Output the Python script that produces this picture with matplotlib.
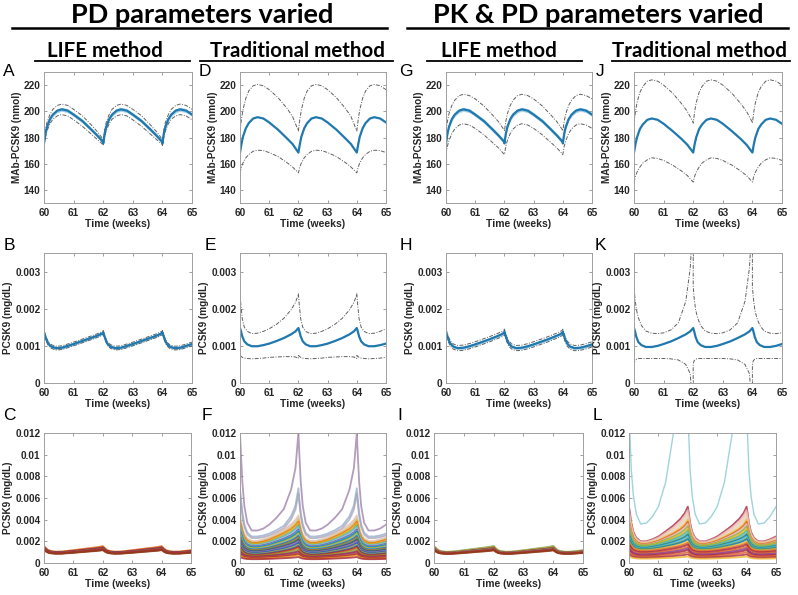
import matplotlib
matplotlib.use('Agg')
import matplotlib.pyplot as plt
from matplotlib.lines import Line2D

W, H = 798, 595

# ---------------------------------------------------------
# Data: one 2-week dosing interval per curve
# (steady state, so the same interval repeats from week 60 to 65)
# ---------------------------------------------------------
off_mab = [0, 0.05, 0.1, 0.2, 0.3, 0.45, 0.6, 0.8, 1.0, 1.3, 1.6, 1.8, 2.0]
off_free = [0, 0.03, 0.08, 0.15, 0.25, 0.4, 0.6, 0.8, 1.0, 1.25, 1.5, 1.75, 1.9, 2.0]

# MAb-PCSK9 (nmol): mean, upper, lower
A_mean = [175.5, 183, 188, 194, 197.5, 200.5, 201.5, 200.5, 197.5, 192.5, 186, 181.5, 176.5]
A_up = [177.5, 186, 191.5, 197.5, 201.5, 204.5, 205.5, 204.5, 201.5, 196.5, 189.5, 184.5, 178.5]
A_lo = [174, 180.5, 185, 190.5, 194, 196.5, 197.5, 196.5, 193.5, 188.5, 182.5, 178.5, 174.5]

D_mean = [168.5, 175, 180.5, 187, 191, 194.5, 195.5, 194.5, 191.5, 186, 179.5, 175, 168.5]
D_up = [185, 194, 201, 210, 215.5, 219.5, 220.5, 219.5, 216.5, 210.5, 202.5, 196, 185]
D_lo = [153, 157.5, 160.5, 164.5, 167, 169.5, 170.3, 170, 168.5, 165.5, 161, 157.5, 153]

G_mean = [175.5, 183, 188, 194, 197.5, 200.5, 201.5, 200.5, 197.5, 192.5, 186, 181.5, 176.5]
G_up = [185, 192.5, 198, 204.5, 208.5, 212, 213, 212, 209.5, 204, 197, 192, 185.5]
G_lo = [167, 173.5, 177.5, 183, 186.5, 189.5, 190.5, 189.5, 187, 182, 176, 172, 167]

J_mean = [168.5, 175, 180, 186.5, 190, 193.5, 194.5, 193.5, 190.5, 185, 179, 174.5, 168.5]
J_up = [191, 200, 206.5, 214.5, 219, 223, 224, 223, 220, 214, 206, 200, 191.5]
J_lo = [146, 150.5, 153.5, 157.5, 160.5, 163, 164.5, 164, 162.5, 159, 154.5, 151, 146]

# free PCSK9 (x1e-3 mg/dL): mean, upper, lower
B_mean = [1.36, 1.29, 1.17, 1.05, 0.98, 0.94, 0.95, 1.00, 1.05, 1.12, 1.19, 1.26, 1.31, 1.35]
B_up = [1.41, 1.34, 1.22, 1.10, 1.03, 0.99, 1.00, 1.05, 1.10, 1.17, 1.24, 1.31, 1.36, 1.40]
B_lo = [1.31, 1.24, 1.12, 1.00, 0.93, 0.89, 0.90, 0.95, 1.00, 1.07, 1.14, 1.21, 1.26, 1.30]

E_mean = [1.48, 1.40, 1.25, 1.12, 1.04, 0.99, 0.99, 1.02, 1.06, 1.13, 1.21, 1.31, 1.39, 1.48]
E_up = [2.40, 2.10, 1.72, 1.50, 1.39, 1.33, 1.34, 1.39, 1.46, 1.58, 1.74, 1.97, 2.17, 2.38]
E_lo = [0.74, 0.72, 0.69, 0.67, 0.66, 0.65, 0.66, 0.67, 0.69, 0.70, 0.71, 0.71, 0.70, 0.66]

H_mean = [1.38, 1.30, 1.18, 1.06, 0.98, 0.94, 0.95, 0.99, 1.04, 1.11, 1.18, 1.26, 1.31, 1.36]
H_up = [1.45, 1.37, 1.25, 1.13, 1.05, 1.01, 1.02, 1.06, 1.11, 1.18, 1.25, 1.33, 1.38, 1.43]
H_lo = [1.31, 1.23, 1.11, 0.99, 0.91, 0.87, 0.88, 0.92, 0.97, 1.04, 1.11, 1.19, 1.24, 1.29]

K_mean = [1.48, 1.40, 1.24, 1.10, 1.02, 0.97, 0.97, 1.00, 1.05, 1.12, 1.21, 1.31, 1.39, 1.48]
K_up = [2.60, 2.30, 1.98, 1.75, 1.55, 1.40, 1.34, 1.33, 1.35, 1.43, 1.62, 2.20, 3.10, 4.50]
K_lo = [0.50, 0.60, 0.64, 0.66, 0.66, 0.66, 0.66, 0.66, 0.66, 0.65, 0.62, 0.50, 0.25, -0.80]

# spaghetti panels: normalised interval shapes + each run's trough / peak (x1e-3)
shape_life = [1, 0.86, 0.56, 0.27, 0.10, 0.0, 0.02, 0.14, 0.26, 0.43, 0.60, 0.76, 0.88, 1.0]
shape_trad = [1, 0.84, 0.53, 0.27, 0.10, 0.0, 0.0, 0.06, 0.14, 0.29, 0.45, 0.65, 0.82, 1.0]
shape_steep = [1, 0.80, 0.50, 0.25, 0.08, 0.0, 0.0, 0.02, 0.06, 0.13, 0.22, 0.42, 0.64, 1.0]

C_trough = [1.05, 1.03, 1.01, 0.99, 0.98, 0.97, 0.96, 0.95, 0.94, 0.93, 0.92, 0.91, 0.90, 0.88, 0.87, 0.85]
C_peak = [1.56, 1.51, 1.47, 1.44, 1.41, 1.39, 1.37, 1.35, 1.33, 1.31, 1.29, 1.27, 1.25, 1.23, 1.21, 1.18]
C_col = ['#D95319', '#EDB120', '#A2142F', '#D95319', '#7E2F8E', '#A2142F', '#D95319', '#0072BD',
         '#A2142F', '#77AC30', '#D95319', '#A2142F', '#7E2F8E', '#D95319', '#A2142F', '#8B4513']

F_trough = [3.0, 2.45, 2.3, 2.05, 1.95, 1.9, 1.85, 1.8, 1.7, 1.65, 1.6, 1.55, 1.5, 1.45, 1.4, 1.35, 1.3,
            1.25, 1.2, 1.15, 1.1, 1.05, 1.0, 0.95, 0.9, 0.85, 0.8, 0.75, 0.7, 0.65, 0.6, 0.55, 0.5,
            0.45, 0.4, 0.35]
F_peak = [12.0, 6.9, 6.4, 4.4, 4.2, 4.0, 3.8, 3.7, 3.5, 3.4, 3.2, 3.1, 3.0, 2.9, 2.8, 2.7, 2.6,
          2.5, 2.4, 2.3, 2.2, 2.1, 2.0, 1.9, 1.8, 1.7, 1.6, 1.5, 1.4, 1.25, 1.1, 1.0, 0.9,
          0.8, 0.7, 0.55]
F_col = ['#9B7BA6', '#93A8CC', '#A3A3B8', '#E8B9A8', '#C8C8C8', '#EDB120', '#D95319', '#EDB120',
         '#77AC30', '#4DBEEE', '#B0C4DE', '#7E2F8E', '#4DBEEE', '#0072BD', '#77AC30', '#EDB120',
         '#4DBEEE', '#0072BD', '#D95319', '#77AC30', '#0072BD', '#A2142F', '#4DBEEE', '#7E2F8E',
         '#0072BD', '#EDB120', '#0072BD', '#A2142F', '#D95319', '#77AC30', '#A2142F', '#7E2F8E',
         '#D95319', '#A2142F', '#EDB120', '#A2142F']
F_n_steep = 3

I_trough = [1.04, 1.02, 1.00, 0.99, 0.97, 0.96, 0.95, 0.94, 0.93, 0.92, 0.91, 0.90, 0.88, 0.87, 0.85, 0.83]
I_peak = [1.58, 1.53, 1.49, 1.46, 1.43, 1.40, 1.38, 1.36, 1.33, 1.31, 1.29, 1.27, 1.24, 1.22, 1.19, 1.16]
I_col = ['#77AC30', '#A0A0A0', '#EDB120', '#77AC30', '#D95319', '#7E2F8E', '#77AC30', '#A2142F',
         '#4DBEEE', '#D95319', '#77AC30', '#A2142F', '#7E2F8E', '#D95319', '#A2142F', '#8B4513']

L_top = [25.0, 12.0, 8.5, 6.2, 4.5, 3.6, 3.7, 4.3, 5.2, 7.5, 11.8, 18.0, 22.0, 25.0]
L_trough = [2.0, 1.95, 1.9, 1.85, 1.8, 1.75, 1.7, 1.65, 1.6, 1.55, 1.5, 1.45, 1.4, 1.35, 1.3, 1.25,
            1.2, 1.1, 1.0, 0.9, 0.8, 0.7, 0.6, 0.5, 0.4]
L_peak = [5.2, 4.9, 4.6, 4.3, 4.0, 3.8, 3.6, 3.4, 3.2, 3.0, 2.9, 2.7, 2.6, 2.45, 2.3, 2.2,
          2.0, 1.85, 1.7, 1.5, 1.35, 1.2, 1.0, 0.8, 0.6]
L_col = ['#A2142F', '#E8B0B8', '#F0C8A0', '#E0D0C0', '#EDB120', '#D95319', '#F0B8C8', '#77AC30',
         '#EDB120', '#77AC30', '#4DBEEE', '#77AC30', '#0072BD', '#4DBEEE', '#77AC30', '#0072BD',
         '#EDB120', '#D95319', '#A2142F', '#D95319', '#7E2F8E', '#A2142F', '#D95319', '#A2142F',
         '#EDB120']

# ---------------------------------------------------------
blue = '#1f78ae'
band = '#a6d3ea'
gray = '#606060'
dashdot = (0, (4, 1.5, 1, 1.5))
tickfont = dict(family='Liberation Sans', weight='bold', size=7.2)


def tile(off, vals, scale=1.0, t0=60.0, t1=65.0):
    ts, ys = [], []
    start = t0
    while start < t1:
        for o, v in zip(off, vals):
            if start + o <= t1 + 1e-9:
                ts.append(start + o)
                ys.append(v * scale)
        start += 2.0
    return ts, ys


def px_axes(fig, l, t, r, b):
    return fig.add_axes([l / W, 1 - b / H, (r - l) / W, (b - t) / H])


def style(ax, ylim, yticks, yticklabels, ylabel):
    ax.set_xlim(60, 65)
    ax.set_ylim(*ylim)
    ax.set_xticks([60, 61, 62, 63, 64, 65])
    ax.set_xticklabels(['60', '61', '62', '63', '64', '65'], fontdict=tickfont)
    ax.set_yticks(yticks)
    ax.set_yticklabels(yticklabels, fontdict=tickfont)
    ax.tick_params(direction='in', length=2, width=0.5, top=True, right=True, colors='#777777',
                   labelcolor='#262626')
    ax.tick_params(axis='x', pad=3.5)
    ax.tick_params(axis='y', pad=2.5)
    for s in ax.spines.values():
        s.set_color('#a0a0a0')
        s.set_linewidth(0.7)
    ax.set_xlabel('Time (weeks)', fontdict=dict(family='Liberation Sans', weight='bold', size=7.5),
                  labelpad=1.0, color='#262626')
    ax.set_ylabel(ylabel, fontdict=dict(family='Liberation Sans', weight='bold', size=7.2),
                  labelpad=1.5, color='#262626')


fig = plt.figure(figsize=(W / 100, H / 100), dpi=100)

cols12 = [(44, 192), (240, 386), (446, 592), (634, 782)]
cols3 = [(44, 191), (240, 386), (434, 583), (629, 776)]
rows = [(72, 203), (253, 383), (433, 563)]

mab_panels = [(A_mean, A_up, A_lo, 1.5), (D_mean, D_up, D_lo, 0), (G_mean, G_up, G_lo, 1.5),
              (J_mean, J_up, J_lo, 0)]
free_panels = [(B_mean, B_up, B_lo, 0.04), (E_mean, E_up, E_lo, 0), (H_mean, H_up, H_lo, 0.04),
               (K_mean, K_up, K_lo, 0)]

for k, (mean, up, lo, hw) in enumerate(mab_panels):
    ax = px_axes(fig, cols12[k][0], rows[0][0], cols12[k][1], rows[0][1])
    t, m = tile(off_mab, mean)
    if hw:
        ax.fill_between(t, [v - hw for v in m], [v + hw for v in m], color=band, lw=0)
    ax.plot(*tile(off_mab, up), color=gray, lw=0.7, ls=dashdot)
    ax.plot(*tile(off_mab, lo), color=gray, lw=0.7, ls=dashdot)
    ax.plot(t, m, color=blue, lw=1.6)
    style(ax, (130, 230), [140, 160, 180, 200, 220], ['140', '160', '180', '200', '220'],
          'MAb-PCSK9 (nmol)')

for k, (mean, up, lo, hw) in enumerate(free_panels):
    ax = px_axes(fig, cols12[k][0], rows[1][0], cols12[k][1], rows[1][1])
    t, m = tile(off_free, mean, 1e-3)
    if hw:
        ax.fill_between(t, [v - hw * 1e-3 for v in m], [v + hw * 1e-3 for v in m], color=band, lw=0)
    ax.plot(*tile(off_free, up, 1e-3), color=gray, lw=0.7, ls=dashdot)
    ax.plot(*tile(off_free, lo, 1e-3), color=gray, lw=0.7, ls=dashdot)
    ax.plot(t, m, color=blue, lw=1.6)
    style(ax, (0, 0.0035), [0, 0.001, 0.002, 0.003], ['0', '0.001', '0.002', '0.003'],
          'PCSK9 (mg/dL)')

spag = [(C_trough, C_peak, C_col, shape_life, 0, None),
        (F_trough, F_peak, F_col, shape_trad, F_n_steep, None),
        (I_trough, I_peak, I_col, shape_life, 0, None),
        (L_trough, L_peak, L_col, shape_trad, 0, L_top)]
for k, (tr, pk, cl, shp, n_steep, top) in enumerate(spag):
    ax = px_axes(fig, cols3[k][0], rows[2][0], cols3[k][1], rows[2][1])
    if top is not None:
        ax.plot(*tile(off_free, top, 1e-3), color='#9fd4dc', lw=1.0)
    for i, (lo_v, hi_v, c) in enumerate(zip(tr, pk, cl)):
        s_use = shape_steep if i < n_steep else shp
        vals = [lo_v + (hi_v - lo_v) * s for s in s_use]
        ax.plot(*tile(off_free, vals, 1e-3), color=c, lw=1.3, alpha=0.75)
    style(ax, (0, 0.012), [0, 0.002, 0.004, 0.006, 0.008, 0.01, 0.012],
          ['0', '0.002', '0.004', '0.006', '0.008', '0.01', '0.012'], 'PCSK9 (mg/dL)')

# ---------------------------------------------------------
# Headers, underlines and panel letters
# ---------------------------------------------------------
def ftext(x, y, s, **kw):
    fig.text(x / W, 1 - y / H, s, **kw)


def fline(x0, x1, y, lw=1.6):
    fig.add_artist(Line2D([x0 / W, x1 / W], [1 - y / H, 1 - y / H], color='black', lw=lw))


hdr = dict(family='Lato', weight='bold', ha='center', va='baseline')
ftext(202, 23, 'PD parameters varied', size=19.5, **hdr)
ftext(598, 23, 'PK & PD parameters varied', size=19.5, **hdr)
fline(12, 387, 27.5, 1.8)
fline(407, 788, 27.5, 1.8)

sub = [(105, 'LIFE method', 35, 190), (298, 'Traditional method', 200, 393),
       (499, 'LIFE method', 427, 582), (700, 'Traditional method', 612, 790)]
for cx, s, x0, x1 in sub:
    ftext(cx, 57, s, size=14.8, **hdr)
    fline(x0, x1, 60.5, 1.3)

letters = [('A', 9, 71), ('D', 205, 71), ('G', 406, 71), ('J', 600, 71),
           ('B', 9, 246), ('E', 210, 246), ('H', 406, 246), ('K', 600, 246),
           ('C', 9, 416), ('F', 207, 416), ('I', 400, 416), ('L', 597, 416)]
for s, x, y in letters:
    ftext(x, y, s, family='Liberation Sans', size=12.5, ha='center', va='center')

fig.savefig('out.png', dpi=100)
